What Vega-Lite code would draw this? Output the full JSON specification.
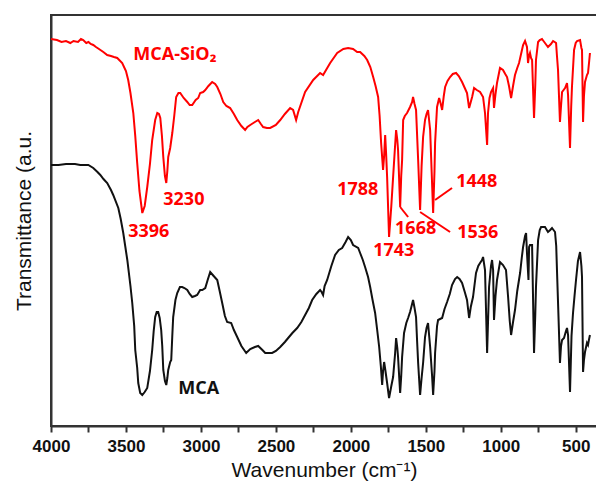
{
  "$schema": "https://vega.github.io/schema/vega-lite/v6.json",
  "autosize": {"type": "none"},
  "padding": {"left": 51, "top": 15, "right": 0, "bottom": 59},
  "width": 546,
  "height": 411,
  "background": "white",
  "config": {
    "view": {"stroke": "#333333", "strokeWidth": 2},
    "axis": {"grid": false}
  },
  "datasets": {
    "spectra": [
      {"sample":"MCA-SiO2","wn":4000,"t":387},{"sample":"MCA-SiO2","wn":3960,"t":386},{"sample":"MCA-SiO2","wn":3930,"t":384},{"sample":"MCA-SiO2","wn":3900,"t":385},{"sample":"MCA-SiO2","wn":3871,"t":383},{"sample":"MCA-SiO2","wn":3850,"t":385},{"sample":"MCA-SiO2","wn":3820,"t":384},{"sample":"MCA-SiO2","wn":3800,"t":387},{"sample":"MCA-SiO2","wn":3785,"t":386},{"sample":"MCA-SiO2","wn":3765,"t":383},{"sample":"MCA-SiO2","wn":3750,"t":384},{"sample":"MCA-SiO2","wn":3735,"t":382},{"sample":"MCA-SiO2","wn":3718,"t":381},{"sample":"MCA-SiO2","wn":3700,"t":379},{"sample":"MCA-SiO2","wn":3680,"t":377},{"sample":"MCA-SiO2","wn":3651,"t":374},{"sample":"MCA-SiO2","wn":3625,"t":371},{"sample":"MCA-SiO2","wn":3600,"t":370},{"sample":"MCA-SiO2","wn":3580,"t":369},{"sample":"MCA-SiO2","wn":3558,"t":368},{"sample":"MCA-SiO2","wn":3525,"t":363},{"sample":"MCA-SiO2","wn":3500,"t":355},{"sample":"MCA-SiO2","wn":3485,"t":346},{"sample":"MCA-SiO2","wn":3470,"t":333},{"sample":"MCA-SiO2","wn":3451,"t":313},{"sample":"MCA-SiO2","wn":3438,"t":290},{"sample":"MCA-SiO2","wn":3425,"t":263},{"sample":"MCA-SiO2","wn":3410,"t":235},{"sample":"MCA-SiO2","wn":3391,"t":213},{"sample":"MCA-SiO2","wn":3375,"t":220},{"sample":"MCA-SiO2","wn":3358,"t":239},{"sample":"MCA-SiO2","wn":3340,"t":262},{"sample":"MCA-SiO2","wn":3325,"t":286},{"sample":"MCA-SiO2","wn":3305,"t":306},{"sample":"MCA-SiO2","wn":3291,"t":313},{"sample":"MCA-SiO2","wn":3280,"t":312},{"sample":"MCA-SiO2","wn":3271,"t":308},{"sample":"MCA-SiO2","wn":3260,"t":290},{"sample":"MCA-SiO2","wn":3251,"t":269},{"sample":"MCA-SiO2","wn":3240,"t":250},{"sample":"MCA-SiO2","wn":3231,"t":243},{"sample":"MCA-SiO2","wn":3224,"t":255},{"sample":"MCA-SiO2","wn":3218,"t":269},{"sample":"MCA-SiO2","wn":3205,"t":278},{"sample":"MCA-SiO2","wn":3191,"t":293},{"sample":"MCA-SiO2","wn":3178,"t":310},{"sample":"MCA-SiO2","wn":3165,"t":329},{"sample":"MCA-SiO2","wn":3150,"t":333},{"sample":"MCA-SiO2","wn":3138,"t":333},{"sample":"MCA-SiO2","wn":3115,"t":328},{"sample":"MCA-SiO2","wn":3091,"t":324},{"sample":"MCA-SiO2","wn":3075,"t":321},{"sample":"MCA-SiO2","wn":3058,"t":321},{"sample":"MCA-SiO2","wn":3035,"t":326},{"sample":"MCA-SiO2","wn":3018,"t":328},{"sample":"MCA-SiO2","wn":3005,"t":333},{"sample":"MCA-SiO2","wn":2985,"t":334},{"sample":"MCA-SiO2","wn":2971,"t":336},{"sample":"MCA-SiO2","wn":2950,"t":340},{"sample":"MCA-SiO2","wn":2925,"t":344},{"sample":"MCA-SiO2","wn":2905,"t":342},{"sample":"MCA-SiO2","wn":2891,"t":339},{"sample":"MCA-SiO2","wn":2870,"t":332},{"sample":"MCA-SiO2","wn":2851,"t":324},{"sample":"MCA-SiO2","wn":2830,"t":320},{"sample":"MCA-SiO2","wn":2805,"t":318},{"sample":"MCA-SiO2","wn":2780,"t":312},{"sample":"MCA-SiO2","wn":2758,"t":306},{"sample":"MCA-SiO2","wn":2730,"t":300},{"sample":"MCA-SiO2","wn":2705,"t":296},{"sample":"MCA-SiO2","wn":2690,"t":299},{"sample":"MCA-SiO2","wn":2671,"t":301},{"sample":"MCA-SiO2","wn":2640,"t":304},{"sample":"MCA-SiO2","wn":2618,"t":306},{"sample":"MCA-SiO2","wn":2600,"t":302},{"sample":"MCA-SiO2","wn":2585,"t":299},{"sample":"MCA-SiO2","wn":2560,"t":298},{"sample":"MCA-SiO2","wn":2538,"t":298},{"sample":"MCA-SiO2","wn":2500,"t":301},{"sample":"MCA-SiO2","wn":2471,"t":306},{"sample":"MCA-SiO2","wn":2440,"t":312},{"sample":"MCA-SiO2","wn":2405,"t":318},{"sample":"MCA-SiO2","wn":2385,"t":316},{"sample":"MCA-SiO2","wn":2365,"t":306},{"sample":"MCA-SiO2","wn":2351,"t":314},{"sample":"MCA-SiO2","wn":2305,"t":334},{"sample":"MCA-SiO2","wn":2251,"t":346},{"sample":"MCA-SiO2","wn":2205,"t":353},{"sample":"MCA-SiO2","wn":2185,"t":351},{"sample":"MCA-SiO2","wn":2138,"t":363},{"sample":"MCA-SiO2","wn":2091,"t":373},{"sample":"MCA-SiO2","wn":2050,"t":377},{"sample":"MCA-SiO2","wn":2018,"t":378},{"sample":"MCA-SiO2","wn":1985,"t":377},{"sample":"MCA-SiO2","wn":1958,"t":374},{"sample":"MCA-SiO2","wn":1938,"t":374},{"sample":"MCA-SiO2","wn":1910,"t":370},{"sample":"MCA-SiO2","wn":1891,"t":366},{"sample":"MCA-SiO2","wn":1870,"t":359},{"sample":"MCA-SiO2","wn":1851,"t":349},{"sample":"MCA-SiO2","wn":1835,"t":340},{"sample":"MCA-SiO2","wn":1818,"t":329},{"sample":"MCA-SiO2","wn":1808,"t":310},{"sample":"MCA-SiO2","wn":1798,"t":283},{"sample":"MCA-SiO2","wn":1785,"t":256},{"sample":"MCA-SiO2","wn":1778,"t":270},{"sample":"MCA-SiO2","wn":1771,"t":291},{"sample":"MCA-SiO2","wn":1764,"t":270},{"sample":"MCA-SiO2","wn":1758,"t":249},{"sample":"MCA-SiO2","wn":1745,"t":189},{"sample":"MCA-SiO2","wn":1730,"t":220},{"sample":"MCA-SiO2","wn":1718,"t":249},{"sample":"MCA-SiO2","wn":1705,"t":280},{"sample":"MCA-SiO2","wn":1698,"t":296},{"sample":"MCA-SiO2","wn":1690,"t":286},{"sample":"MCA-SiO2","wn":1685,"t":276},{"sample":"MCA-SiO2","wn":1671,"t":219},{"sample":"MCA-SiO2","wn":1664,"t":250},{"sample":"MCA-SiO2","wn":1658,"t":266},{"sample":"MCA-SiO2","wn":1651,"t":306},{"sample":"MCA-SiO2","wn":1640,"t":310},{"sample":"MCA-SiO2","wn":1625,"t":313},{"sample":"MCA-SiO2","wn":1605,"t":319},{"sample":"MCA-SiO2","wn":1591,"t":324},{"sample":"MCA-SiO2","wn":1585,"t":329},{"sample":"MCA-SiO2","wn":1575,"t":322},{"sample":"MCA-SiO2","wn":1565,"t":316},{"sample":"MCA-SiO2","wn":1551,"t":266},{"sample":"MCA-SiO2","wn":1538,"t":216},{"sample":"MCA-SiO2","wn":1528,"t":260},{"sample":"MCA-SiO2","wn":1518,"t":289},{"sample":"MCA-SiO2","wn":1505,"t":306},{"sample":"MCA-SiO2","wn":1495,"t":312},{"sample":"MCA-SiO2","wn":1485,"t":316},{"sample":"MCA-SiO2","wn":1471,"t":296},{"sample":"MCA-SiO2","wn":1451,"t":213},{"sample":"MCA-SiO2","wn":1442,"t":255},{"sample":"MCA-SiO2","wn":1438,"t":283},{"sample":"MCA-SiO2","wn":1425,"t":319},{"sample":"MCA-SiO2","wn":1411,"t":328},{"sample":"MCA-SiO2","wn":1400,"t":322},{"sample":"MCA-SiO2","wn":1391,"t":316},{"sample":"MCA-SiO2","wn":1380,"t":330},{"sample":"MCA-SiO2","wn":1371,"t":339},{"sample":"MCA-SiO2","wn":1355,"t":345},{"sample":"MCA-SiO2","wn":1338,"t":349},{"sample":"MCA-SiO2","wn":1320,"t":352},{"sample":"MCA-SiO2","wn":1298,"t":353},{"sample":"MCA-SiO2","wn":1280,"t":350},{"sample":"MCA-SiO2","wn":1258,"t":344},{"sample":"MCA-SiO2","wn":1240,"t":338},{"sample":"MCA-SiO2","wn":1225,"t":333},{"sample":"MCA-SiO2","wn":1211,"t":318},{"sample":"MCA-SiO2","wn":1200,"t":324},{"sample":"MCA-SiO2","wn":1191,"t":329},{"sample":"MCA-SiO2","wn":1178,"t":338},{"sample":"MCA-SiO2","wn":1160,"t":336},{"sample":"MCA-SiO2","wn":1138,"t":334},{"sample":"MCA-SiO2","wn":1118,"t":329},{"sample":"MCA-SiO2","wn":1105,"t":313},{"sample":"MCA-SiO2","wn":1091,"t":281},{"sample":"MCA-SiO2","wn":1085,"t":313},{"sample":"MCA-SiO2","wn":1075,"t":328},{"sample":"MCA-SiO2","wn":1065,"t":334},{"sample":"MCA-SiO2","wn":1051,"t":338},{"sample":"MCA-SiO2","wn":1045,"t":318},{"sample":"MCA-SiO2","wn":1035,"t":332},{"sample":"MCA-SiO2","wn":1025,"t":343},{"sample":"MCA-SiO2","wn":1005,"t":358},{"sample":"MCA-SiO2","wn":985,"t":356},{"sample":"MCA-SiO2","wn":970,"t":352},{"sample":"MCA-SiO2","wn":958,"t":349},{"sample":"MCA-SiO2","wn":945,"t":340},{"sample":"MCA-SiO2","wn":931,"t":328},{"sample":"MCA-SiO2","wn":918,"t":340},{"sample":"MCA-SiO2","wn":905,"t":351},{"sample":"MCA-SiO2","wn":890,"t":358},{"sample":"MCA-SiO2","wn":878,"t":363},{"sample":"MCA-SiO2","wn":860,"t":375},{"sample":"MCA-SiO2","wn":851,"t":381},{"sample":"MCA-SiO2","wn":838,"t":385},{"sample":"MCA-SiO2","wn":825,"t":379},{"sample":"MCA-SiO2","wn":818,"t":363},{"sample":"MCA-SiO2","wn":812,"t":370},{"sample":"MCA-SiO2","wn":805,"t":373},{"sample":"MCA-SiO2","wn":798,"t":368},{"sample":"MCA-SiO2","wn":791,"t":366},{"sample":"MCA-SiO2","wn":778,"t":308},{"sample":"MCA-SiO2","wn":770,"t":340},{"sample":"MCA-SiO2","wn":765,"t":366},{"sample":"MCA-SiO2","wn":751,"t":384},{"sample":"MCA-SiO2","wn":740,"t":386},{"sample":"MCA-SiO2","wn":725,"t":387},{"sample":"MCA-SiO2","wn":715,"t":385},{"sample":"MCA-SiO2","wn":705,"t":383},{"sample":"MCA-SiO2","wn":685,"t":379},{"sample":"MCA-SiO2","wn":665,"t":382},{"sample":"MCA-SiO2","wn":651,"t":385},{"sample":"MCA-SiO2","wn":640,"t":384},{"sample":"MCA-SiO2","wn":631,"t":383},{"sample":"MCA-SiO2","wn":625,"t":370},{"sample":"MCA-SiO2","wn":618,"t":356},{"sample":"MCA-SiO2","wn":605,"t":304},{"sample":"MCA-SiO2","wn":598,"t":320},{"sample":"MCA-SiO2","wn":591,"t":334},{"sample":"MCA-SiO2","wn":571,"t":338},{"sample":"MCA-SiO2","wn":558,"t":343},{"sample":"MCA-SiO2","wn":551,"t":331},{"sample":"MCA-SiO2","wn":538,"t":278},{"sample":"MCA-SiO2","wn":530,"t":320},{"sample":"MCA-SiO2","wn":525,"t":339},{"sample":"MCA-SiO2","wn":511,"t":376},{"sample":"MCA-SiO2","wn":500,"t":383},{"sample":"MCA-SiO2","wn":491,"t":385},{"sample":"MCA-SiO2","wn":471,"t":386},{"sample":"MCA-SiO2","wn":462,"t":378},{"sample":"MCA-SiO2","wn":458,"t":376},{"sample":"MCA-SiO2","wn":451,"t":304},{"sample":"MCA-SiO2","wn":445,"t":330},{"sample":"MCA-SiO2","wn":438,"t":344},{"sample":"MCA-SiO2","wn":425,"t":351},{"sample":"MCA-SiO2","wn":418,"t":353},{"sample":"MCA-SiO2","wn":410,"t":365},{"sample":"MCA-SiO2","wn":405,"t":373},
      {"sample":"MCA","wn":4000,"t":261},{"sample":"MCA","wn":3950,"t":261},{"sample":"MCA","wn":3900,"t":262},{"sample":"MCA","wn":3871,"t":262},{"sample":"MCA","wn":3840,"t":262},{"sample":"MCA","wn":3805,"t":261},{"sample":"MCA","wn":3780,"t":261},{"sample":"MCA","wn":3751,"t":261},{"sample":"MCA","wn":3718,"t":258},{"sample":"MCA","wn":3690,"t":254},{"sample":"MCA","wn":3671,"t":251},{"sample":"MCA","wn":3650,"t":247},{"sample":"MCA","wn":3625,"t":243},{"sample":"MCA","wn":3600,"t":236},{"sample":"MCA","wn":3585,"t":231},{"sample":"MCA","wn":3551,"t":218},{"sample":"MCA","wn":3535,"t":207},{"sample":"MCA","wn":3518,"t":193},{"sample":"MCA","wn":3505,"t":180},{"sample":"MCA","wn":3491,"t":166},{"sample":"MCA","wn":3470,"t":140},{"sample":"MCA","wn":3458,"t":123},{"sample":"MCA","wn":3445,"t":100},{"sample":"MCA","wn":3438,"t":76},{"sample":"MCA","wn":3425,"t":58},{"sample":"MCA","wn":3418,"t":43},{"sample":"MCA","wn":3405,"t":33},{"sample":"MCA","wn":3391,"t":31},{"sample":"MCA","wn":3375,"t":34},{"sample":"MCA","wn":3358,"t":38},{"sample":"MCA","wn":3340,"t":55},{"sample":"MCA","wn":3325,"t":76},{"sample":"MCA","wn":3315,"t":95},{"sample":"MCA","wn":3305,"t":109},{"sample":"MCA","wn":3295,"t":114},{"sample":"MCA","wn":3285,"t":114},{"sample":"MCA","wn":3275,"t":108},{"sample":"MCA","wn":3265,"t":96},{"sample":"MCA","wn":3258,"t":80},{"sample":"MCA","wn":3251,"t":56},{"sample":"MCA","wn":3240,"t":45},{"sample":"MCA","wn":3231,"t":41},{"sample":"MCA","wn":3224,"t":48},{"sample":"MCA","wn":3218,"t":56},{"sample":"MCA","wn":3205,"t":64},{"sample":"MCA","wn":3198,"t":66},{"sample":"MCA","wn":3191,"t":90},{"sample":"MCA","wn":3185,"t":109},{"sample":"MCA","wn":3170,"t":126},{"sample":"MCA","wn":3158,"t":133},{"sample":"MCA","wn":3140,"t":139},{"sample":"MCA","wn":3125,"t":139},{"sample":"MCA","wn":3110,"t":138},{"sample":"MCA","wn":3091,"t":136},{"sample":"MCA","wn":3075,"t":132},{"sample":"MCA","wn":3058,"t":129},{"sample":"MCA","wn":3040,"t":130},{"sample":"MCA","wn":3025,"t":131},{"sample":"MCA","wn":3005,"t":136},{"sample":"MCA","wn":2991,"t":136},{"sample":"MCA","wn":2971,"t":138},{"sample":"MCA","wn":2955,"t":146},{"sample":"MCA","wn":2938,"t":154},{"sample":"MCA","wn":2915,"t":150},{"sample":"MCA","wn":2891,"t":146},{"sample":"MCA","wn":2875,"t":135},{"sample":"MCA","wn":2858,"t":123},{"sample":"MCA","wn":2840,"t":110},{"sample":"MCA","wn":2825,"t":104},{"sample":"MCA","wn":2798,"t":103},{"sample":"MCA","wn":2780,"t":96},{"sample":"MCA","wn":2758,"t":89},{"sample":"MCA","wn":2730,"t":80},{"sample":"MCA","wn":2698,"t":73},{"sample":"MCA","wn":2671,"t":77},{"sample":"MCA","wn":2640,"t":79},{"sample":"MCA","wn":2618,"t":80},{"sample":"MCA","wn":2590,"t":76},{"sample":"MCA","wn":2571,"t":73},{"sample":"MCA","wn":2525,"t":73},{"sample":"MCA","wn":2500,"t":75},{"sample":"MCA","wn":2471,"t":79},{"sample":"MCA","wn":2440,"t":84},{"sample":"MCA","wn":2418,"t":88},{"sample":"MCA","wn":2390,"t":93},{"sample":"MCA","wn":2358,"t":98},{"sample":"MCA","wn":2330,"t":104},{"sample":"MCA","wn":2305,"t":111},{"sample":"MCA","wn":2280,"t":118},{"sample":"MCA","wn":2258,"t":126},{"sample":"MCA","wn":2230,"t":132},{"sample":"MCA","wn":2205,"t":136},{"sample":"MCA","wn":2195,"t":134},{"sample":"MCA","wn":2185,"t":131},{"sample":"MCA","wn":2175,"t":140},{"sample":"MCA","wn":2158,"t":146},{"sample":"MCA","wn":2130,"t":160},{"sample":"MCA","wn":2105,"t":171},{"sample":"MCA","wn":2080,"t":176},{"sample":"MCA","wn":2058,"t":178},{"sample":"MCA","wn":2035,"t":184},{"sample":"MCA","wn":2018,"t":189},{"sample":"MCA","wn":2000,"t":186},{"sample":"MCA","wn":1985,"t":181},{"sample":"MCA","wn":1951,"t":178},{"sample":"MCA","wn":1938,"t":173},{"sample":"MCA","wn":1920,"t":166},{"sample":"MCA","wn":1905,"t":159},{"sample":"MCA","wn":1885,"t":149},{"sample":"MCA","wn":1871,"t":139},{"sample":"MCA","wn":1855,"t":126},{"sample":"MCA","wn":1838,"t":113},{"sample":"MCA","wn":1825,"t":97},{"sample":"MCA","wn":1811,"t":79},{"sample":"MCA","wn":1800,"t":60},{"sample":"MCA","wn":1791,"t":41},{"sample":"MCA","wn":1785,"t":55},{"sample":"MCA","wn":1778,"t":64},{"sample":"MCA","wn":1770,"t":56},{"sample":"MCA","wn":1758,"t":43},{"sample":"MCA","wn":1745,"t":28},{"sample":"MCA","wn":1730,"t":40},{"sample":"MCA","wn":1718,"t":49},{"sample":"MCA","wn":1705,"t":72},{"sample":"MCA","wn":1698,"t":88},{"sample":"MCA","wn":1690,"t":78},{"sample":"MCA","wn":1685,"t":69},{"sample":"MCA","wn":1677,"t":48},{"sample":"MCA","wn":1671,"t":33},{"sample":"MCA","wn":1664,"t":50},{"sample":"MCA","wn":1658,"t":69},{"sample":"MCA","wn":1645,"t":93},{"sample":"MCA","wn":1630,"t":103},{"sample":"MCA","wn":1618,"t":108},{"sample":"MCA","wn":1605,"t":114},{"sample":"MCA","wn":1598,"t":118},{"sample":"MCA","wn":1585,"t":126},{"sample":"MCA","wn":1575,"t":118},{"sample":"MCA","wn":1565,"t":109},{"sample":"MCA","wn":1558,"t":85},{"sample":"MCA","wn":1551,"t":63},{"sample":"MCA","wn":1538,"t":31},{"sample":"MCA","wn":1528,"t":48},{"sample":"MCA","wn":1518,"t":63},{"sample":"MCA","wn":1505,"t":89},{"sample":"MCA","wn":1495,"t":98},{"sample":"MCA","wn":1485,"t":103},{"sample":"MCA","wn":1471,"t":79},{"sample":"MCA","wn":1458,"t":50},{"sample":"MCA","wn":1451,"t":31},{"sample":"MCA","wn":1442,"t":55},{"sample":"MCA","wn":1438,"t":73},{"sample":"MCA","wn":1425,"t":100},{"sample":"MCA","wn":1418,"t":106},{"sample":"MCA","wn":1405,"t":107},{"sample":"MCA","wn":1391,"t":108},{"sample":"MCA","wn":1375,"t":117},{"sample":"MCA","wn":1358,"t":124},{"sample":"MCA","wn":1340,"t":132},{"sample":"MCA","wn":1325,"t":141},{"sample":"MCA","wn":1305,"t":147},{"sample":"MCA","wn":1291,"t":149},{"sample":"MCA","wn":1275,"t":147},{"sample":"MCA","wn":1258,"t":143},{"sample":"MCA","wn":1240,"t":134},{"sample":"MCA","wn":1225,"t":126},{"sample":"MCA","wn":1211,"t":108},{"sample":"MCA","wn":1200,"t":119},{"sample":"MCA","wn":1185,"t":129},{"sample":"MCA","wn":1165,"t":153},{"sample":"MCA","wn":1150,"t":160},{"sample":"MCA","wn":1138,"t":163},{"sample":"MCA","wn":1125,"t":166},{"sample":"MCA","wn":1118,"t":169},{"sample":"MCA","wn":1105,"t":156},{"sample":"MCA","wn":1091,"t":73},{"sample":"MCA","wn":1078,"t":139},{"sample":"MCA","wn":1065,"t":160},{"sample":"MCA","wn":1058,"t":166},{"sample":"MCA","wn":1051,"t":156},{"sample":"MCA","wn":1045,"t":106},{"sample":"MCA","wn":1035,"t":130},{"sample":"MCA","wn":1025,"t":146},{"sample":"MCA","wn":1005,"t":164},{"sample":"MCA","wn":985,"t":161},{"sample":"MCA","wn":965,"t":156},{"sample":"MCA","wn":951,"t":129},{"sample":"MCA","wn":940,"t":105},{"sample":"MCA","wn":931,"t":91},{"sample":"MCA","wn":918,"t":104},{"sample":"MCA","wn":905,"t":116},{"sample":"MCA","wn":890,"t":135},{"sample":"MCA","wn":871,"t":153},{"sample":"MCA","wn":860,"t":168},{"sample":"MCA","wn":851,"t":179},{"sample":"MCA","wn":838,"t":190},{"sample":"MCA","wn":831,"t":193},{"sample":"MCA","wn":825,"t":173},{"sample":"MCA","wn":815,"t":146},{"sample":"MCA","wn":811,"t":179},{"sample":"MCA","wn":805,"t":181},{"sample":"MCA","wn":791,"t":181},{"sample":"MCA","wn":778,"t":73},{"sample":"MCA","wn":770,"t":110},{"sample":"MCA","wn":765,"t":139},{"sample":"MCA","wn":751,"t":186},{"sample":"MCA","wn":740,"t":196},{"sample":"MCA","wn":731,"t":199},{"sample":"MCA","wn":718,"t":199},{"sample":"MCA","wn":705,"t":199},{"sample":"MCA","wn":685,"t":194},{"sample":"MCA","wn":670,"t":196},{"sample":"MCA","wn":658,"t":198},{"sample":"MCA","wn":638,"t":194},{"sample":"MCA","wn":630,"t":180},{"sample":"MCA","wn":625,"t":156},{"sample":"MCA","wn":615,"t":110},{"sample":"MCA","wn":605,"t":63},{"sample":"MCA","wn":598,"t":80},{"sample":"MCA","wn":591,"t":86},{"sample":"MCA","wn":578,"t":88},{"sample":"MCA","wn":565,"t":95},{"sample":"MCA","wn":558,"t":98},{"sample":"MCA","wn":551,"t":91},{"sample":"MCA","wn":538,"t":34},{"sample":"MCA","wn":528,"t":90},{"sample":"MCA","wn":518,"t":113},{"sample":"MCA","wn":508,"t":130},{"sample":"MCA","wn":498,"t":146},{"sample":"MCA","wn":485,"t":165},{"sample":"MCA","wn":471,"t":174},{"sample":"MCA","wn":462,"t":160},{"sample":"MCA","wn":458,"t":149},{"sample":"MCA","wn":451,"t":54},{"sample":"MCA","wn":445,"t":66},{"sample":"MCA","wn":438,"t":74},{"sample":"MCA","wn":425,"t":83},{"sample":"MCA","wn":418,"t":81},{"sample":"MCA","wn":412,"t":86},{"sample":"MCA","wn":405,"t":91}
    ],
    "labels": [
      {"sample":"MCA-SiO2","label":"MCA-SiO₂","wn":3451,"t":371},
      {"sample":"MCA-SiO2","label":"3396","wn":3485,"t":194},
      {"sample":"MCA-SiO2","label":"3230","wn":3251,"t":226},
      {"sample":"MCA-SiO2","label":"1788","wn":2091,"t":236},
      {"sample":"MCA-SiO2","label":"1743","wn":1851,"t":175},
      {"sample":"MCA-SiO2","label":"1668","wn":1705,"t":197},
      {"sample":"MCA-SiO2","label":"1536","wn":1291,"t":193},
      {"sample":"MCA-SiO2","label":"1448","wn":1297,"t":244},
      {"sample":"MCA","label":"MCA","wn":3151,"t":37}
    ],
    "leaders": [
      {"sample":"MCA-SiO2","wn":1671,"t":219,"wn2":1618,"t2":209},
      {"sample":"MCA-SiO2","wn":1538,"t":214,"wn2":1338,"t2":194},
      {"sample":"MCA-SiO2","wn":1438,"t":226,"wn2":1325,"t2":238}
    ]
  },
  "encoding": {
    "x": {
      "field": "wn", "type": "quantitative",
      "scale": {"domain": [4000, 358], "nice": false, "zero": false},
      "axis": {
        "title": "Wavenumber (cm⁻¹)",
        "values": [4000, 3750, 3500, 3250, 3000, 2750, 2500, 2250, 2000, 1750, 1500, 1250, 1000, 750, 500],
        "labelExpr": "datum.value % 500 === 0 ? datum.label : ''",
        "format": "d",
        "labelFlush": false,
        "labelOverlap": false,
        "labelBound": false,
        "domainColor": "#333333", "domainWidth": 2,
        "tickColor": "#333333", "tickWidth": 2, "tickSize": 6,
        "labelFont": "Liberation Sans", "labelFontWeight": "bold", "labelFontSize": 17, "labelColor": "#111111", "labelPadding": 6,
        "titleFont": "Liberation Sans", "titleFontWeight": "normal", "titleFontSize": 21, "titleColor": "#111111", "titlePadding": 5
      }
    },
    "y": {
      "field": "t", "type": "quantitative",
      "scale": {"domain": [0, 411], "nice": false, "zero": false},
      "axis": {
        "title": "Transmittance (a.u.",
        "labels": false, "ticks": false,
        "domainColor": "#333333", "domainWidth": 2,
        "titleFont": "Liberation Sans", "titleFontWeight": "normal", "titleFontSize": 21, "titleColor": "#111111", "titlePadding": 17
      }
    },
    "color": {
      "field": "sample", "type": "nominal",
      "scale": {"domain": ["MCA-SiO2", "MCA"], "range": ["#ff0000", "#111111"]},
      "legend": null
    }
  },
  "layer": [
    {
      "data": {"name": "spectra"},
      "mark": {"type": "line", "strokeWidth": 2, "interpolate": "linear"},
      "encoding": {"detail": {"field": "sample"}}
    },
    {
      "data": {"name": "leaders"},
      "mark": {"type": "rule", "strokeWidth": 2},
      "encoding": {
        "x2": {"field": "wn2"},
        "y2": {"field": "t2"}
      }
    },
    {
      "data": {"name": "labels"},
      "mark": {"type": "text", "align": "left", "baseline": "middle", "font": "Open Sans", "fontWeight": "bold", "fontSize": 18},
      "encoding": {"text": {"field": "label"}}
    }
  ]
}
